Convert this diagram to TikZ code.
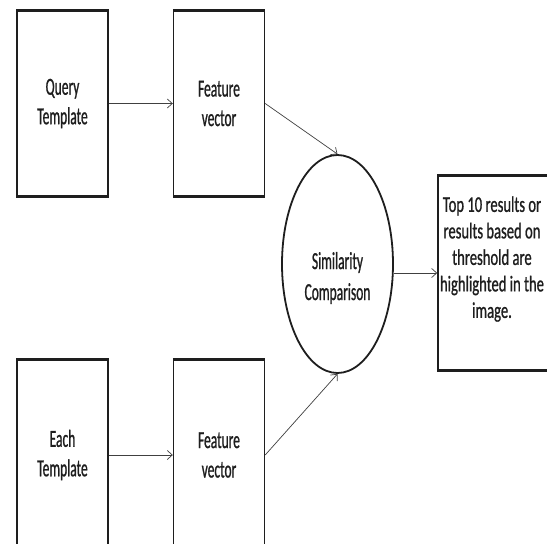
\documentclass[tikz,border=0pt]{standalone}
\usepackage{fontspec}
\usetikzlibrary{shapes.geometric,arrows.meta}
\newfontfamily\boxf[FakeStretch=0.55,FakeBold=0.8]{Carlito}
\newfontfamily\resf[FakeStretch=0.65,FakeBold=0.8]{Carlito}
\definecolor{ink}{HTML}{1E1E1E}
\definecolor{arr}{HTML}{404040}
\tikzset{
  x=1pt, y=-1pt,
  blk/.style={draw=ink, line width=1.4pt, rectangle, minimum width=91pt, inner sep=0pt,
     align=center, text=ink, font={\boxf\fontsize{24.5}{29.5}\selectfont}},
  resbox/.style={draw=ink, line width=1.6pt, rectangle, minimum width=112pt, minimum height=194pt, inner sep=0pt},
  restxt/.style={align=center, text=ink, inner sep=0pt, font={\resf\fontsize{22.5}{26.5}\selectfont}},
  simell/.style={draw=ink, line width=1.8pt, ellipse, minimum width=111pt, minimum height=218pt, inner sep=0pt},
  simtxt/.style={align=center, text=ink, inner sep=0pt, font={\boxf\fontsize{24.5}{31}\selectfont}},
  conn/.style={draw=arr, line width=0.7pt, -{Straight Barb[length=5pt,width=9pt]}},
  edge/.style={draw=ink, line width=2.6pt}
}
\begin{document}
\begin{tikzpicture}
\clip (0,0) rectangle (547,544);
\fill[white] (0,0) rectangle (547,544);
\node[blk, minimum height=185pt] (q) at (62.5,103.5) {Query\\Template};
\node[blk, minimum height=185pt] (f1) at (219,103.5) {Feature\\vector};
\node[blk, minimum height=190pt] (e) at (62.5,455) {Each\\Template};
\node[blk, minimum height=190pt] (f2) at (219,455) {Feature\\vector};
\draw[edge] (q.north west) -- (q.north east);
\draw[edge] (q.south west) -- (q.south east);
\draw[edge] (f1.north west) -- (f1.north east);
\draw[edge] (f1.south west) -- (f1.south east);
\draw[edge] (e.north west) -- (e.north east);
\draw[edge] (f2.north west) -- (f2.north east);
\node[simell] (sim) at (337.5,264) {};
\node[simtxt] (st) at (337.5,278) {Similarity\\Comparison};
\node[resbox] (res) at (494,273) {};
\node[restxt] (rt) at (492,259) {Top 10 results or\\results based on\\threshold are\\highlighted in the\\image.};
\draw[edge] (res.north west) -- (res.north east);
\draw[edge] (res.south west) -- (res.south east);
\draw[conn] (q.east) -- (f1.west);
\draw[conn] (e.east) -- (f2.west);
\draw[conn] (f1.east) -- (sim.north);
\draw[conn] (f2.east) -- (sim.south);
\draw[conn] (sim.east |- res.west) -- (res.west);
\end{tikzpicture}
\end{document}
